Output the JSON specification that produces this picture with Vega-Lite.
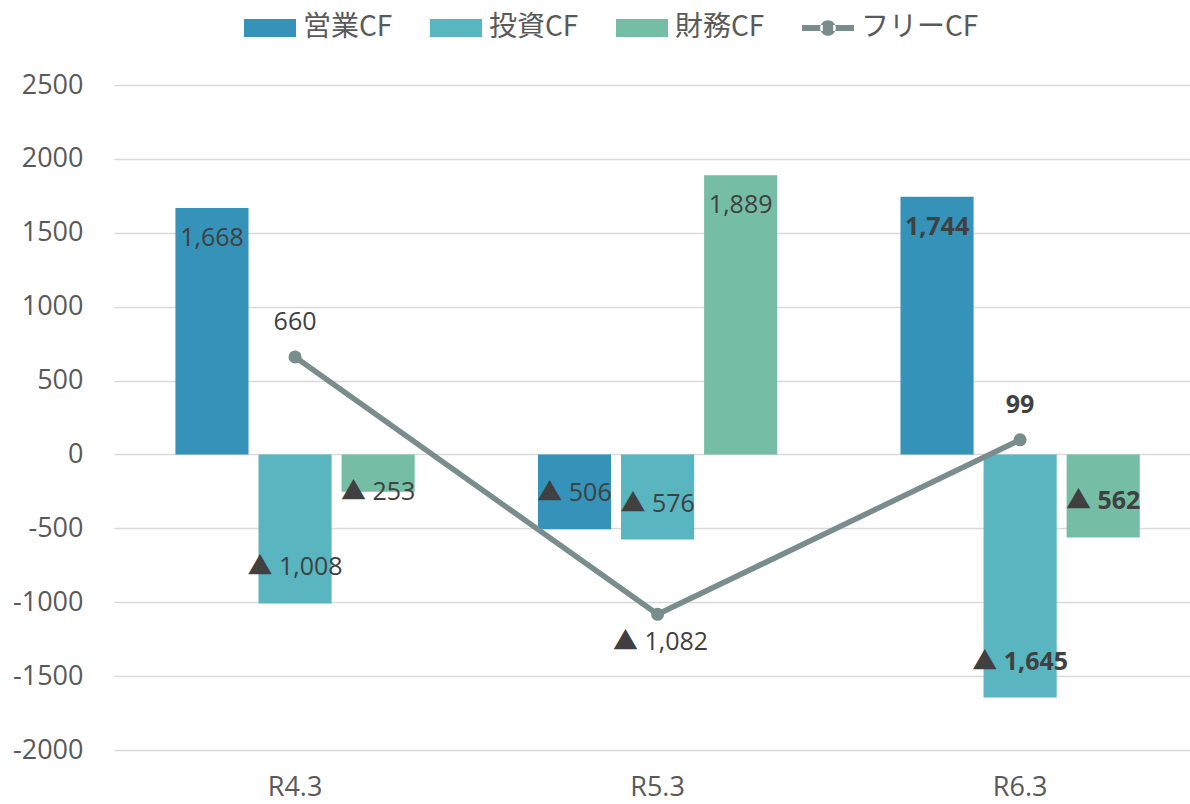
{
  "$schema": "https://vega.github.io/schema/vega-lite/v6.json",
  "width": 1076,
  "height": 665,
  "autosize": {"type": "none"},
  "padding": {"left": 114, "top": 85, "right": 0, "bottom": 54},
  "background": "white",
  "config": {"view": {"stroke": null}, "font": "Open Sans"},
  "data": {
    "values": [
      {"cat": "R4.3", "series": "営業CF", "value": 1668, "label": "1,668"},
      {"cat": "R4.3", "series": "投資CF", "value": -1008, "label": "▲ 1,008"},
      {"cat": "R4.3", "series": "財務CF", "value": -253, "label": "▲ 253"},
      {"cat": "R5.3", "series": "営業CF", "value": -506, "label": "▲ 506"},
      {"cat": "R5.3", "series": "投資CF", "value": -576, "label": "▲ 576"},
      {"cat": "R5.3", "series": "財務CF", "value": 1889, "label": "1,889"},
      {"cat": "R6.3", "series": "営業CF", "value": 1744, "label": "1,744"},
      {"cat": "R6.3", "series": "投資CF", "value": -1645, "label": "▲ 1,645"},
      {"cat": "R6.3", "series": "財務CF", "value": -562, "label": "▲ 562"},
      {"cat": "R4.3", "series": "フリーCF", "value": 660, "label": "660"},
      {"cat": "R5.3", "series": "フリーCF", "value": -1082, "label": "▲ 1,082"},
      {"cat": "R6.3", "series": "フリーCF", "value": 99, "label": "99"}
    ]
  },
  "layer": [
    {
      "transform": [{"filter": "datum.series !== 'フリーCF'"}],
      "mark": {"type": "bar"},
      "encoding": {
        "x": {
          "field": "cat", "type": "nominal", "sort": ["R4.3", "R5.3", "R6.3"],
          "scale": {"paddingInner": 0.34, "paddingOuter": 0.154, "align": 0.55},
          "axis": {"title": null, "domain": false, "ticks": false, "grid": false, "labelAngle": 0, "labelFontSize": 27, "labelColor": "#595959", "labelPadding": 24}
        },
        "xOffset": {"field": "series", "type": "nominal", "sort": ["営業CF", "投資CF", "財務CF"], "scale": {"paddingInner": 0.12, "paddingOuter": 0}},
        "y": {
          "field": "value", "type": "quantitative",
          "scale": {"domain": [-2000, 2500], "nice": false, "zero": false},
          "axis": {"title": null, "domain": false, "ticks": false, "values": [-2000, -1500, -1000, -500, 0, 500, 1000, 1500, 2000, 2500], "labelExpr": "toString(datum.value)", "gridColor": "#d9d9d9", "gridWidth": 1.3, "labelFontSize": 27, "labelColor": "#595959", "labelPadding": 31}
        },
        "color": {
          "field": "series", "type": "nominal",
          "scale": {"domain": ["営業CF", "投資CF", "財務CF", "フリーCF"], "range": ["#3592b9", "#59b5bf", "#75bda5", "#7a8d8d"]},
          "legend": {
            "title": null, "orient": "none", "legendX": 130, "legendY": -83, "direction": "horizontal",
            "symbolSize": 2704, "symbolStrokeWidth": 0, "labelFont": "Noto Sans CJK JP", "labelFontSize": 28, "labelColor": "#595959", "labelOffset": 7, "columnPadding": 37,
            "encode": {"symbols": {"update": {"shape": {"signal": "datum.value === 'フリーCF' ? 'M-1,-0.12H-0.2V0.12H-1Z M0.2,-0.12H1V0.12H0.2Z M-0.3,0 A0.3,0.3 0 1,0 0.3,0 A0.3,0.3 0 1,0 -0.3,0Z' : 'M-1,-0.346H1V0.346H-1Z'"}}}}
          }
        }
      }
    },
    {
      "transform": [{"filter": "datum.series !== 'フリーCF'"}],
      "mark": {"type": "text", "font": "Open Sans, Noto Sans CJK JP", "fontSize": 25, "color": "#404040", "baseline": "middle", "align": "center",
        "dy": {"expr": "datum.value > 0 ? 30 : (datum.value > -300 ? 0 : -36)"},
        "fontWeight": {"expr": "datum.cat === 'R6.3' ? 'bold' : 'normal'"}},
      "encoding": {
        "x": {"field": "cat", "type": "nominal", "sort": ["R4.3", "R5.3", "R6.3"]},
        "xOffset": {"field": "series", "type": "nominal", "sort": ["営業CF", "投資CF", "財務CF"]},
        "y": {"field": "value", "type": "quantitative"},
        "text": {"field": "label"}
      }
    },
    {
      "transform": [{"filter": "datum.series === 'フリーCF'"}],
      "mark": {"type": "line", "color": "#7a8d8d", "strokeWidth": 5.5, "point": {"filled": true, "size": 170, "color": "#7a8d8d"}},
      "encoding": {
        "x": {"field": "cat", "type": "nominal", "sort": ["R4.3", "R5.3", "R6.3"]},
        "y": {"field": "value", "type": "quantitative"}
      }
    },
    {
      "transform": [{"filter": "datum.series === 'フリーCF'"}],
      "mark": {"type": "text", "font": "Open Sans, Noto Sans CJK JP", "fontSize": 25, "color": "#404040", "baseline": "middle", "align": "center",
        "dy": {"expr": "datum.value > 0 ? -35 : 28"},
        "dx": {"expr": "datum.value > 0 ? 0 : 3"},
        "fontWeight": {"expr": "datum.cat === 'R6.3' ? 'bold' : 'normal'"}},
      "encoding": {
        "x": {"field": "cat", "type": "nominal", "sort": ["R4.3", "R5.3", "R6.3"]},
        "y": {"field": "value", "type": "quantitative"},
        "text": {"field": "label"}
      }
    }
  ]
}
